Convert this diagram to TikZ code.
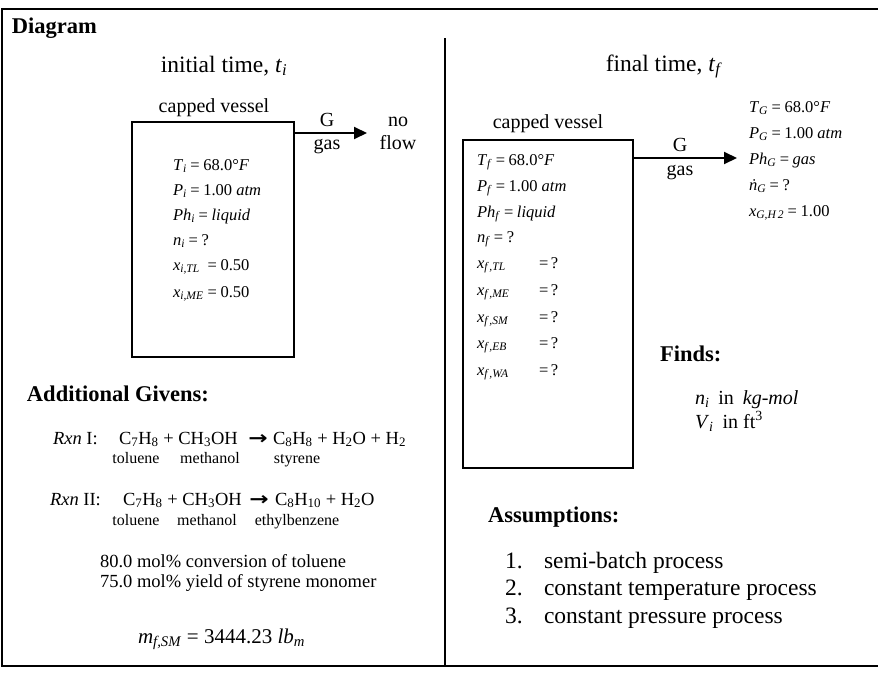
\documentclass[tikz,border=0pt]{standalone}
\usepackage{graphicx}
\usepackage{fontspec}
\setmainfont{Liberation Serif}
\newfontfamily\arrowfont{DejaVu Sans}
\usetikzlibrary{arrows.meta}
\newcommand\sv[2]{\textit{#1}\textsubscript{\textit{#2}}}
\newcommand\eqs{\hspace{0.22em}=\hspace{0.22em}}
\newcommand\fsz[1]{\fontsize{#1}{#1}\selectfont}
\newcommand\rarr{\scalebox{1.25}[1]{\arrowfont\bfseries →}}
\begin{document}
\begin{tikzpicture}[x=1pt,y=-1pt,
  every node/.style={inner sep=0pt, outer sep=0pt},
  big/.style={font=\fsz{23.5}},
  head/.style={font=\fsz{22.5}\bfseries, anchor=base west},
  captxt/.style={font=\fsz{20}, anchor=base},
  var/.style={font=\fsz{16.5}, anchor=base west},
  rx/.style={font=\fsz{18.5}, anchor=base west},
  lab/.style={font=\fsz{16}, anchor=base},
  frame/.style={line width=2pt},
  vessel/.style={draw, line width=1.4pt},
  flow/.style={line width=2pt, -{Triangle[length=13pt,width=12pt]}}]
\useasboundingbox (0,0) rectangle (878,696);
% frame
\draw[frame] (878,8.5) -- (1.5,8.5) -- (1.5,666) -- (878,666);
\draw[frame] (445,38) -- (445,666);
\node[head] (diag) at (12,33) {Diagram};
% ---------- left: initial time
\node[big, anchor=base] (ti) at (224,72) {initial time, \textit{t}\textsubscript{\textit{i}}};
\node[captxt] (cvL) at (214,112) {capped vessel};
\node[vessel, minimum width=162pt, minimum height=235pt] (vesL) at (213,239.5) {};
\coordinate (nfL) at (367,133);
\draw[flow] (vesL.east |- nfL) -- (nfL);
\node[captxt] (GL) at (327,126) {G};
\node[captxt] (gasL) at (327,149) {gas};
\node[captxt] (noL) at (398,126) {no};
\node[captxt] (flowL) at (398,149) {flow};
\node[var] (vi1) at (173,170) {\sv{T}{i}\eqs68.0°\textit{F}};
\node[var] (vi2) at (173,195) {\sv{P}{i}\eqs1.00 \textit{atm}};
\node[var] (vi3) at (173,220) {\sv{Ph}{i}\eqs\textit{liquid}};
\node[var] (vi4) at (173,245) {\sv{n}{i}\eqs?};
\node[var] (vi5) at (173,270) {\makebox[31pt][l]{\sv{x}{i,TL}}\eqs0.50};
\node[var] (vi6) at (173,297) {\makebox[31pt][l]{\sv{x}{i,ME}}\eqs0.50};
% ---------- right: final time
\node[big, anchor=base] (tf) at (664,71) {final time, \textit{t}\textsubscript{\textit{f}}};
\node[captxt] (cvR) at (548,128) {capped vessel};
\node[vessel, minimum width=170pt, minimum height=328pt] (vesR) at (548,304) {};
\coordinate (outR) at (737,158);
\draw[flow] (vesR.east |- outR) -- (outR);
\node[captxt] (GR) at (680,151) {G};
\node[captxt] (gasR) at (680,175) {gas};
\node[var] (g1) at (749,112) {\sv{T}{G}\eqs68.0°\textit{F}};
\node[var] (g2) at (749,138) {\sv{P}{G}\eqs1.00 \textit{atm}};
\node[var] (g3) at (749,164) {\sv{Ph}{G}\eqs\textit{gas}};
\node[var] (g4) at (749,190) {\textit{\.n}\textsubscript{\textit{G}}\eqs?};
\node[var] (g5) at (749,216) {\sv{x}{G,H\,2}\eqs1.00};
\node[var] (vf1) at (477,165) {\sv{T}{f}\eqs68.0°\textit{F}};
\node[var] (vf2) at (477,191) {\sv{P}{f}\eqs1.00 \textit{atm}};
\node[var] (vf3) at (477,217) {\sv{Ph}{f}\eqs\textit{liquid}};
\node[var] (vf4) at (477,242) {\sv{n}{f}\eqs?};
\node[var] (vf5) at (477,268) {\makebox[62pt][l]{\sv{x}{f\,,TL}}=\hspace{0.15em}?};
\node[var] (vf6) at (477,295) {\makebox[62pt][l]{\sv{x}{f\,,ME}}=\hspace{0.15em}?};
\node[var] (vf7) at (477,322) {\makebox[62pt][l]{\sv{x}{f\,,SM}}=\hspace{0.15em}?};
\node[var] (vf8) at (477,348) {\makebox[62pt][l]{\sv{x}{f\,,EB}}=\hspace{0.15em}?};
\node[var] (vf9) at (477,375) {\makebox[62pt][l]{\sv{x}{f\,,WA}}=\hspace{0.15em}?};
% finds
\node[head] (finds) at (660,361) {Finds:};
\node[font=\fsz{20}, anchor=base west] (fd1) at (695,404) {\sv{n}{i}\hspace{0.45em}in\hspace{0.45em}\textit{kg-mol}};
\node[font=\fsz{20}, anchor=base west] (fd2) at (695,428) {\sv{V}{i}\hspace{0.45em}in ft\textsuperscript{3}};
% assumptions
\node[head] (assm) at (488,522) {Assumptions:};
\node[big, anchor=base west] (n1) at (505,568) {1.};
\node[big, anchor=base west] (a1) at (544,568) {semi-batch process};
\node[big, anchor=base west] (n2) at (505,595) {2.};
\node[big, anchor=base west] (a2) at (544,595) {constant temperature process};
\node[big, anchor=base west] (n3) at (505,623) {3.};
\node[big, anchor=base west] (a3) at (544,623) {constant pressure process};
% additional givens
\node[head] (addg) at (27,401) {Additional Givens:};
\node[rx] (r1) at (53,444) {\textit{Rxn} I:};
\node[rx] (r1a) at (119,444) {C\textsubscript{7}H\textsubscript{8} + CH\textsubscript{3}OH};
\node[rx, anchor=base] (r1b) at (258,444) {\rarr};
\node[rx] (r1c) at (273,444) {C\textsubscript{8}H\textsubscript{8} + H\textsubscript{2}O + H\textsubscript{2}};
\node[lab] (l1a) at (136,463) {toluene};
\node[lab] (l1b) at (210,463) {methanol};
\node[lab] (l1c) at (297,463) {styrene};
\node[rx] (r2) at (50,505) {\textit{Rxn} II:};
\node[rx] (r2a) at (123,505) {C\textsubscript{7}H\textsubscript{8} + CH\textsubscript{3}OH};
\node[rx, anchor=base] (r2b) at (259,505) {\rarr};
\node[rx] (r2c) at (275,505) {C\textsubscript{8}H\textsubscript{10} + H\textsubscript{2}O};
\node[lab] (l2a) at (136,525) {toluene};
\node[lab] (l2b) at (207,525) {methanol};
\node[lab] (l2c) at (297,525) {ethylbenzene};
\node[font=\fsz{18.5}, anchor=base west] (cv1) at (100,567) {80.0 mol\% conversion of toluene};
\node[font=\fsz{18.5}, anchor=base west] (cv2) at (100,587) {75.0 mol\% yield of styrene monomer};
\node[font=\fsz{21}, anchor=base west] (msm) at (138,643) {\sv{m}{f,SM} = 3444.23 \sv{lb}{m}};
\end{tikzpicture}
\end{document}
